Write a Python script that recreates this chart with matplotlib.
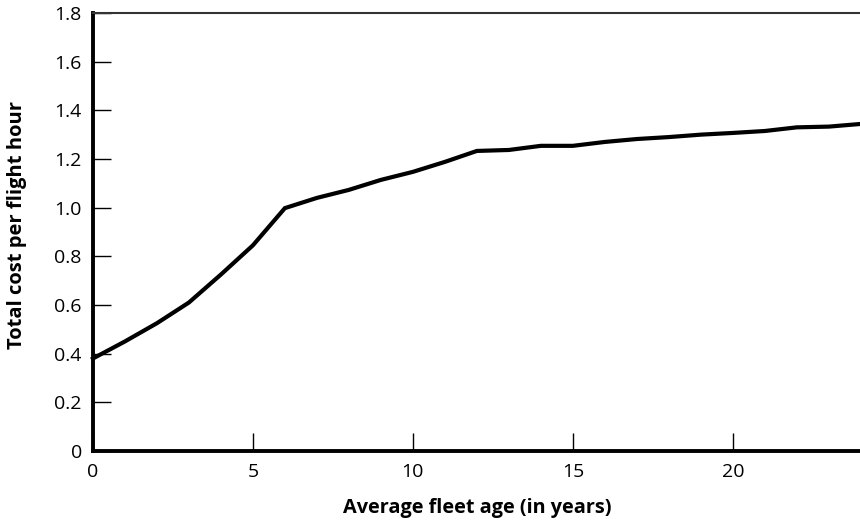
import matplotlib
matplotlib.use("Agg")
import matplotlib.pyplot as plt

plt.rcParams["font.family"] = ["Open Sans", "DejaVu Sans"]

# Average fleet age (years) vs total cost per flight hour
fleet_age = [0, 1, 2, 3, 4, 5, 6, 7, 8, 9, 10, 11, 12,
             13, 14, 15, 16, 17, 18, 19, 20, 21, 22, 23, 24]
cost_per_hour = [0.38, 0.45, 0.525, 0.61, 0.725, 0.845, 0.998, 1.04, 1.073,
                 1.114, 1.147, 1.188, 1.233, 1.237, 1.254, 1.254, 1.27, 1.282,
                 1.29, 1.30, 1.307, 1.315, 1.33, 1.333, 1.344]

x_ticks = [0, 5, 10, 15, 20]
y_ticks = [0, 0.2, 0.4, 0.6, 0.8, 1.0, 1.2, 1.4, 1.6, 1.8]
y_tick_labels = ["0", "0.2", "0.4", "0.6", "0.8", "1.0", "1.2", "1.4", "1.6", "1.8"]

fig = plt.figure(figsize=(8.6, 5.23), dpi=100)
ax = fig.add_axes([0.108, 0.1377, 0.893, 0.8375])

ax.plot(fleet_age, cost_per_hour, color="black", lw=3, solid_joinstyle="miter",
        clip_on=False, zorder=3)

ax.set_xlim(0, 24)
ax.set_ylim(0, 1.8)
ax.set_xticks(x_ticks)
ax.set_yticks(y_ticks)
ax.set_yticklabels(y_tick_labels)

ax.spines["right"].set_visible(False)
ax.spines["left"].set_linewidth(2.8)
ax.spines["bottom"].set_linewidth(2.8)
ax.spines["top"].set_linewidth(1.5)
ax.spines["top"].set_color("#333333")

ax.tick_params(direction="in", length=13, width=1, labelsize=14)
ax.tick_params(axis="x", pad=9)
ax.tick_params(axis="y", pad=8)

ax.set_xlabel("Average fleet age (in years)", fontsize=14.3, fontweight="bold",
              labelpad=12)
ax.set_ylabel("Total cost per flight hour", fontsize=14.5, fontweight="bold")
# label sits a little above the axis centre in the original
ax.yaxis.set_label_coords(-0.086, 0.516)

fig.savefig("out.png", dpi=100)
